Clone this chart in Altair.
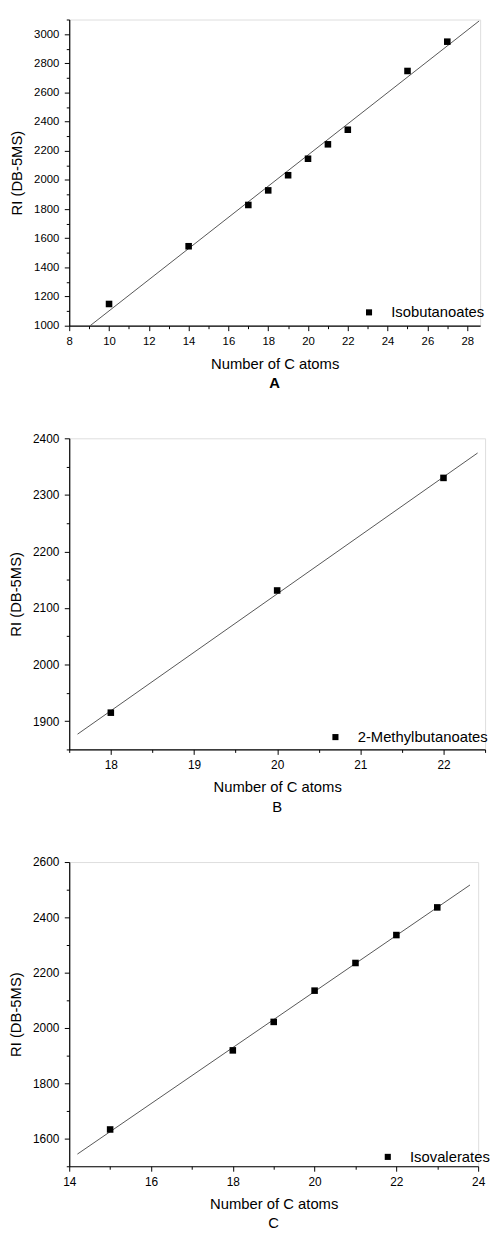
import altair as alt
import pandas as pd

# Panel A: Isobutanoates
a_x = [10, 14, 17, 18, 19, 20, 21, 22, 25, 27]
a_y = [1149, 1545, 1828, 1928, 2032, 2145, 2244, 2344, 2747, 2948]
a_fit_x = [9.05, 28.6]
a_fit_y = [1000, 3090]

# Panel B: 2-Methylbutanoates
b_x = [18, 20, 22]
b_y = [1915, 2131, 2330]
b_fit_x = [17.6, 22.41]
b_fit_y = [1877, 2374]

# Panel C: Isovalerates
c_x = [15, 18, 19, 20, 21, 22, 23]
c_y = [1633, 1919, 2022, 2135, 2235, 2336, 2436]
c_fit_x = [14.2, 23.8]
c_fit_y = [1544, 2517]

FONT = "Liberation Sans"


def frange(lo, hi, step):
    out = []
    v = lo
    while v <= hi + 1e-9:
        out.append(round(v, 6))
        v += step
    return out


def major_axis(values, orient, label_size, title, title_pad, label_pad):
    return alt.Axis(
        values=values, orient=orient, format="d", tickSize=5, tickColor="black",
        tickWidth=1, domainColor="black", domainWidth=1.2, labelColor="black",
        labelFont=FONT, labelFontSize=label_size, labelPadding=label_pad,
        labelOverlap=False, labelFlush=False, grid=False, title=title,
        titleFont=FONT, titleFontSize=15, titleFontWeight="normal",
        titleColor="black", titlePadding=title_pad,
    )


def minor_axis(values, orient):
    return alt.Axis(values=values, orient=orient, tickSize=3, tickColor="black",
                    tickWidth=1, domain=False, labels=False, grid=False, title=None)


def panel(xs, ys, fx, fy, xdom, ydom, xmaj, xmin, ymaj, ymin, name, key,
          letter, bold, w, h, label_size, legx, legy):
    pts = pd.DataFrame({"x": xs, "y": ys, key: [name] * len(xs)})
    fit = pd.DataFrame({"x": fx, "y": fy})
    xs_ = alt.Scale(domain=xdom, nice=False, zero=False)
    ys_ = alt.Scale(domain=ydom, nice=False, zero=False)
    line = alt.Chart(fit).mark_line(color="#555555", strokeWidth=1).encode(
        x=alt.X("x:Q", scale=xs_,
                axis=major_axis(xmaj, "bottom", label_size, "Number of C atoms", 10, 5)),
        y=alt.Y("y:Q", scale=ys_,
                axis=major_axis(ymaj, "left", label_size, "RI (DB-5MS)", 9, 5.5)),
    )
    minor = alt.Chart(fit).mark_line(strokeOpacity=0).encode(
        x=alt.X("x:Q", scale=xs_, axis=minor_axis(xmin, "bottom")),
        y=alt.Y("y:Q", scale=ys_, axis=minor_axis(ymin, "left")),
    )
    sq = alt.Chart(pts).mark_square(size=44, opacity=1).encode(
        x=alt.X("x:Q", scale=xs_, axis=None),
        y=alt.Y("y:Q", scale=ys_, axis=None),
        color=alt.Color(
            f"{key}:N",
            scale=alt.Scale(domain=[name], range=["black"]),
            legend=alt.Legend(
                title=None, orient="none", legendX=legx, legendY=legy,
                labelFont=FONT, labelFontSize=15, labelColor="black",
                labelOffset=15, symbolType="square", symbolSize=38,
                symbolStrokeWidth=0, symbolFillColor="black", padding=0,
            ),
        ),
    )
    return alt.layer(minor, line, sq).resolve_axis(
        x="independent", y="independent"
    ).properties(
        width=w, height=h,
        title=alt.TitleParams(
            letter, orient="bottom", anchor="middle", frame="group", font=FONT,
            fontSize=15, fontWeight="bold" if bold else "normal", color="black",
            offset=5,
        ),
    )


A = panel(a_x, a_y, a_fit_x, a_fit_y, [8, 28.65], [1000, 3100],
          frange(8, 28, 2), frange(9, 28, 2), frange(1000, 3000, 200), frange(1100, 3100, 200),
          "Isobutanoates", "sA", "A", True, 416, 310, 11.5, 296, 289)
B = panel(b_x, b_y, b_fit_x, b_fit_y, [17.5, 22.5], [1850, 2400],
          frange(18, 22, 1), frange(17.5, 22.5, 1), frange(1900, 2400, 100), frange(1850, 2350, 100),
          "2-Methylbutanoates", "sB", "B", False, 421, 315, 12, 262, 295)
C = panel(c_x, c_y, c_fit_x, c_fit_y, [14, 24], [1500, 2600],
          frange(14, 24, 2), frange(15, 23, 2), frange(1600, 2600, 200), frange(1500, 2500, 200),
          "Isovalerates", "sC", "C", False, 414, 308, 12, 315, 291)

chart = alt.vconcat(A, B, C, spacing=40).resolve_scale(color="independent").configure_view(
    stroke=None
).configure(font=FONT, padding={"left": 0, "top": 2, "right": 0, "bottom": 0})

chart.save("out.html", embed_options={"renderer": "svg", "actions": False})
